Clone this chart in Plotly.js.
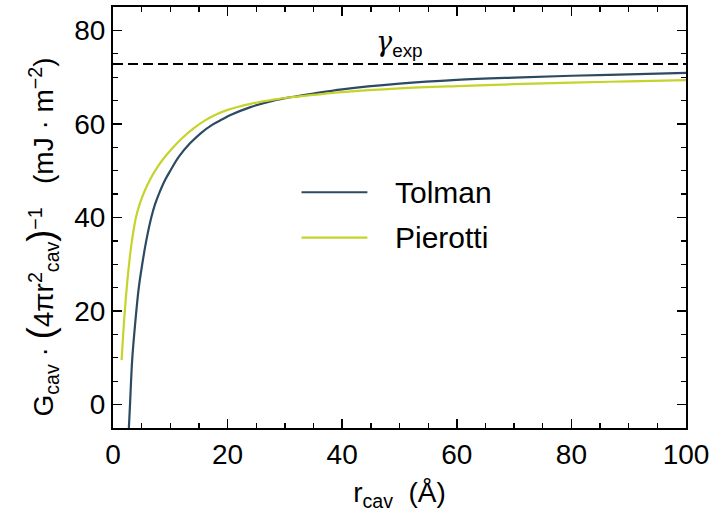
<!DOCTYPE html>
<html>
<head>
<meta charset="utf-8">
<script src="https://cdn.plot.ly/plotly-3.0.1.min.js"></script>
<style>html,body{margin:0;padding:0;background:#fff;}#chart{width:714px;height:519px;}</style>
</head>
<body>
<div id="chart"></div>
<script>
// Data
const seriesNames = ["Tolman", "Pierotti"];
const tolmanR = [2.75, 2.97, 3.15, 3.37, 3.7, 4.07, 4.5, 5.1, 5.8, 6.68, 7.3, 8, 9, 10.05, 11.5, 13.4, 15.3, 17.3, 19.1, 20.5, 24, 28, 31, 35, 40, 50, 60, 70, 80, 90, 100];
const tolmanG = [-5.5, 0, 5, 10, 15, 20, 25, 30, 35, 40, 42.7, 45, 47.8, 50.1, 53, 55.8, 58, 59.8, 61, 61.9, 63.6, 65, 65.7, 66.5, 67.4, 68.6, 69.4, 69.9, 70.3, 70.6, 70.9];
const pierottiR = [1.5, 1.7, 2.0, 2.4, 2.8, 3.3, 4.0, 4.7, 5.5, 6.5, 7.5, 8.7, 10.2, 12, 14, 16, 18, 20, 24, 28, 31, 35, 40, 50, 60, 70, 80, 90, 100];
const pierottiG = [9.5, 13.5, 19, 25, 30, 35, 40, 43, 45.6, 48.2, 50.3, 52.4, 54.6, 56.9, 59, 60.7, 62, 63, 64.3, 65.2, 65.7, 66.2, 66.8, 67.6, 68.1, 68.5, 68.85, 69.1, 69.35];
const gammaExp = 72.8;
const gammaX = [0, 100];
const xTicks = [0, 20, 40, 60, 80, 100];
const yTicks = [0, 20, 40, 60, 80];

const colors = ["#2c4a61", "#c6d32a"];
const FONT = "Liberation Sans, Arial, Helvetica, sans-serif";

const traces = [
  {x: gammaX, y: [gammaExp, gammaExp], mode: "lines", line: {color: "#000", width: 2, dash: "10px,5px"}, showlegend: false, hoverinfo: "skip"},
  {x: tolmanR, y: tolmanG, mode: "lines", name: seriesNames[0], line: {color: colors[0], width: 2.2, shape: "spline", smoothing: 1}, showlegend: false},
  {x: pierottiR, y: pierottiG, mode: "lines", name: seriesNames[1], line: {color: colors[1], width: 2.2, shape: "spline", smoothing: 1}, showlegend: false}
];

const axisCommon = {
  showline: true, linecolor: "#000", linewidth: 2, mirror: "allticks",
  ticks: "inside", ticklen: 9, tickwidth: 1.6, tickcolor: "#000",
  showgrid: false, zeroline: false,
  tickfont: {family: FONT, size: 28, color: "#000"}
};

// Legend drawn as line samples + labels in paper coordinates
const legendY = [0.56, 0.452];
const shapes = [];
const annotations = [];
seriesNames.forEach((n, i) => {
  shapes.push({type: "line", xref: "paper", yref: "paper", x0: 0.329, x1: 0.444, y0: legendY[i], y1: legendY[i], line: {color: colors[i], width: 2.2}});
  annotations.push({xref: "paper", yref: "paper", x: 0.4887, y: legendY[i], xanchor: "left", yanchor: "middle", text: n, showarrow: false, font: {family: FONT, size: 30, color: "#000"}});
});
annotations.push({xref: "x", yref: "y", x: 50, y: gammaExp, xanchor: "center", yanchor: "bottom", yshift: 1, showarrow: false,
  text: "<span style=\"font-family:'DejaVu Serif'\"><i>γ</i></span><sub>exp</sub>", font: {family: FONT, size: 27, color: "#000"}});

const layout = {
  width: 714, height: 519,
  margin: {l: 113, r: 28, t: 7, b: 91},
  paper_bgcolor: "#fff", plot_bgcolor: "#fff",
  showlegend: false,
  xaxis: Object.assign({}, axisCommon, {
    range: [0, 100], tickvals: xTicks, ticktext: xTicks.map(String),
    minor: {dtick: 5, tick0: 0, ticks: "inside", ticklen: 5, tickwidth: 1.3, tickcolor: "#000", showgrid: false},
    title: {text: "r<sub>cav</sub>  (Å)", font: {family: FONT, size: 28, color: "#000"}, standoff: 14}
  }),
  yaxis: Object.assign({}, axisCommon, {
    range: [-5, 85], tickvals: yTicks, ticktext: yTicks.map(String),
    minor: {dtick: 5, tick0: 0, ticks: "inside", ticklen: 5, tickwidth: 1.3, tickcolor: "#000", showgrid: false},
    title: {text: "G<sub>cav</sub> · <span style=\"font-size:36px\">(</span>4πr<sup>2</sup><sub>cav</sub><span style=\"font-size:36px\">)</span><sup>−1</sup>   (mJ · m<sup>−2</sup>)<span style=\"fill:#ffffff\">.....</span>", font: {family: FONT, size: 28, color: "#000"}, standoff: 12}
  }),
  shapes: shapes,
  annotations: annotations
};

Plotly.newPlot("chart", traces, layout, {displayModeBar: false, staticPlot: true});
</script>
</body>
</html>
